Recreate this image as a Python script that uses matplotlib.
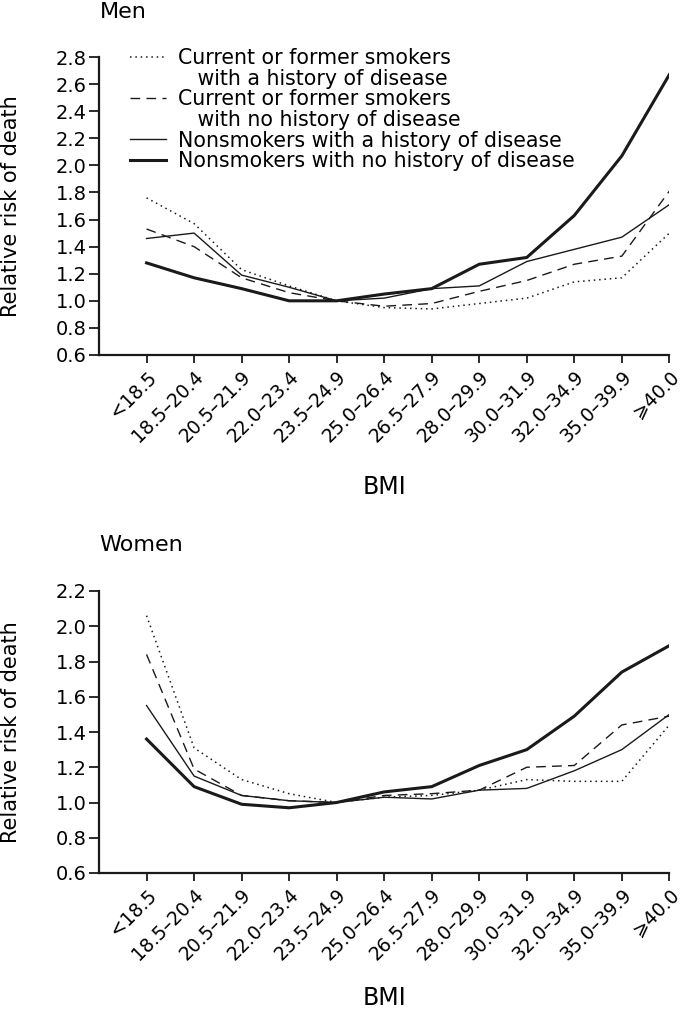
import matplotlib
matplotlib.use("Agg")
import matplotlib.pyplot as plt
from matplotlib.lines import Line2D

plt.rcParams["font.family"] = ["DejaVu Sans"]

bmi_labels = ["<18.5", "18.5–20.4", "20.5–21.9", "22.0–23.4", "23.5–24.9",
              "25.0–26.4", "26.5–27.9", "28.0–29.9", "30.0–31.9", "32.0–34.9",
              "35.0–39.9", "⩾40.0"]

# Men
men_smk_dis = [1.76, 1.57, 1.23, 1.11, 1.00, 0.95, 0.94, 0.98, 1.02, 1.14, 1.17, 1.50]
men_smk_nodis = [1.53, 1.40, 1.17, 1.06, 1.00, 0.96, 0.98, 1.07, 1.15, 1.27, 1.33, 1.81]
men_non_dis = [1.46, 1.50, 1.19, 1.10, 1.00, 1.02, 1.09, 1.11, 1.29, 1.38, 1.47, 1.71]
men_non_nodis = [1.28, 1.17, 1.09, 1.00, 1.00, 1.05, 1.09, 1.27, 1.32, 1.63, 2.07, 2.67]

# Women
wom_smk_dis = [2.06, 1.31, 1.13, 1.05, 1.00, 1.03, 1.04, 1.07, 1.13, 1.12, 1.12, 1.44]
wom_smk_nodis = [1.84, 1.19, 1.04, 1.01, 1.00, 1.04, 1.05, 1.07, 1.20, 1.21, 1.44, 1.49]
wom_non_dis = [1.55, 1.15, 1.04, 1.01, 1.00, 1.03, 1.02, 1.07, 1.08, 1.18, 1.30, 1.50]
wom_non_nodis = [1.36, 1.09, 0.99, 0.97, 1.00, 1.06, 1.09, 1.21, 1.30, 1.49, 1.74, 1.89]

legend_labels = ["Current or former smokers", "   with a history of disease",
                 "Current or former smokers", "   with no history of disease",
                 "Nonsmokers with a history of disease",
                 "Nonsmokers with no history of disease"]

col = "#1a1a1a"
styles = [dict(ls=(0, (1, 2.5)), lw=1.1),
          dict(ls=(0, (7, 4.5)), lw=1.0),
          dict(ls="-", lw=1.0),
          dict(ls="-", lw=2.2)]

fig = plt.figure(figsize=(6.83, 10.11), dpi=100)


def panel(rect, series, ymax, title, xlab_y, title_y):
    ax = fig.add_axes(rect)
    x = list(range(len(bmi_labels)))
    for s, st in zip(series, styles):
        ax.plot(x, s, color=col, **st)
    ax.set_xlim(-1, 11)
    ax.set_ylim(0.6, ymax)
    ticks = [round(0.6 + 0.2 * i, 1) for i in range(int(round((ymax - 0.6) / 0.2)) + 1)]
    ax.set_yticks(ticks)
    ax.set_yticklabels([f"{t:.1f}" for t in ticks], fontsize=14)
    ax.set_xticks(x)
    ax.set_xticklabels(bmi_labels, rotation=45, ha="right", va="top",
                       rotation_mode="anchor", fontsize=13.5)
    for side in ["top", "right"]:
        ax.spines[side].set_visible(False)
    for side in ["left", "bottom"]:
        ax.spines[side].set_linewidth(1.6)
        ax.spines[side].set_color(col)
    ax.tick_params(axis="y", direction="out", length=7, width=1.3, color=col, pad=2)
    ax.tick_params(axis="x", direction="out", length=6, width=1.3, color=col, pad=3)
    ax.set_ylabel("Relative risk of death", fontsize=15, va="center")
    ax.yaxis.set_label_coords(-0.154, 0.5)
    ax.set_xlabel("BMI", fontsize=17, va="center")
    ax.xaxis.set_label_coords(0.5, xlab_y)
    fig.text(0.146, title_y, title, fontsize=16, va="center")
    return ax


ax1 = panel([0.145, 1 - 355 / 1011, 0.835, 298 / 1011],
            [men_smk_dis, men_smk_nodis, men_non_dis, men_non_nodis], 2.8, "Men",
            -0.443, 1 - 12.5 / 1011)
ax2 = panel([0.145, 1 - 873 / 1011, 0.835, 282 / 1011],
            [wom_smk_dis, wom_smk_nodis, wom_non_dis, wom_non_nodis], 2.2, "Women",
            -0.445, 1 - 545 / 1011)

handles = [Line2D([], [], color=col, **styles[0]), Line2D([], [], alpha=0),
           Line2D([], [], color=col, **styles[1]), Line2D([], [], alpha=0),
           Line2D([], [], color=col, **styles[2]),
           Line2D([], [], color=col, **styles[3])]
ax1.legend(handles, legend_labels, loc="upper left", bbox_to_anchor=(0.054, 1.03),
           frameon=False, fontsize=14.8, handlelength=1.75, handletextpad=0.6,
           labelspacing=0.03, borderaxespad=0, borderpad=0)

fig.savefig("out.png", dpi=100)
